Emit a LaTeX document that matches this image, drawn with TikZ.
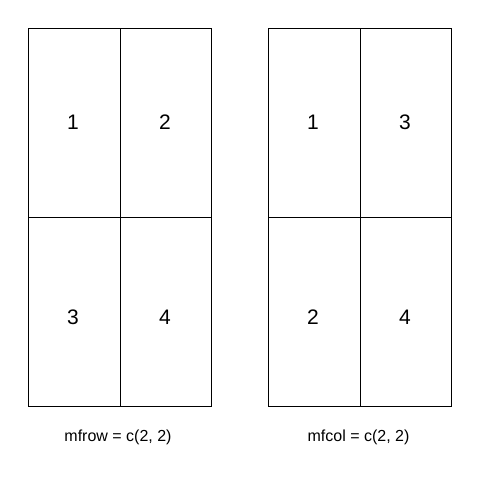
\documentclass[tikz,border=0pt]{standalone}
\usepackage{fontspec}
\setmainfont{Liberation Sans}
\begin{document}
\begin{tikzpicture}[x=1pt,y=-1pt,
  frame/.style={draw=black,line width=0.8pt},
  num/.style={font=\fontsize{21}{24}\selectfont,inner sep=0pt},
  caption/.style={font=\fontsize{16}{19}\selectfont,inner sep=0pt}]
\useasboundingbox[fill=white] (0,0) rectangle (480,480);
% left grid: mfrow
\draw[frame] (28,28) rectangle (211,406);
\draw[frame] (120,28) -- (120,406);
\draw[frame] (28,217) -- (211,217);
\node[num] (l1) at (73,122) {1};
\node[num] (l2) at (165,122) {2};
\node[num] (l3) at (73,317) {3};
\node[num] (l4) at (165,317) {4};
% right grid: mfcol
\draw[frame] (268,28) rectangle (451,406);
\draw[frame] (360,28) -- (360,406);
\draw[frame] (268,217) -- (451,217);
\node[num] (r1) at (313,122) {1};
\node[num] (r3) at (405,122) {3};
\node[num] (r2) at (313,317) {2};
\node[num] (r4) at (405,317) {4};
\node[caption] (lc) at (118,437) {mfrow = c(2, 2)};
\node[caption] (rc) at (358.5,437) {mfcol = c(2, 2)};
\end{tikzpicture}
\end{document}
